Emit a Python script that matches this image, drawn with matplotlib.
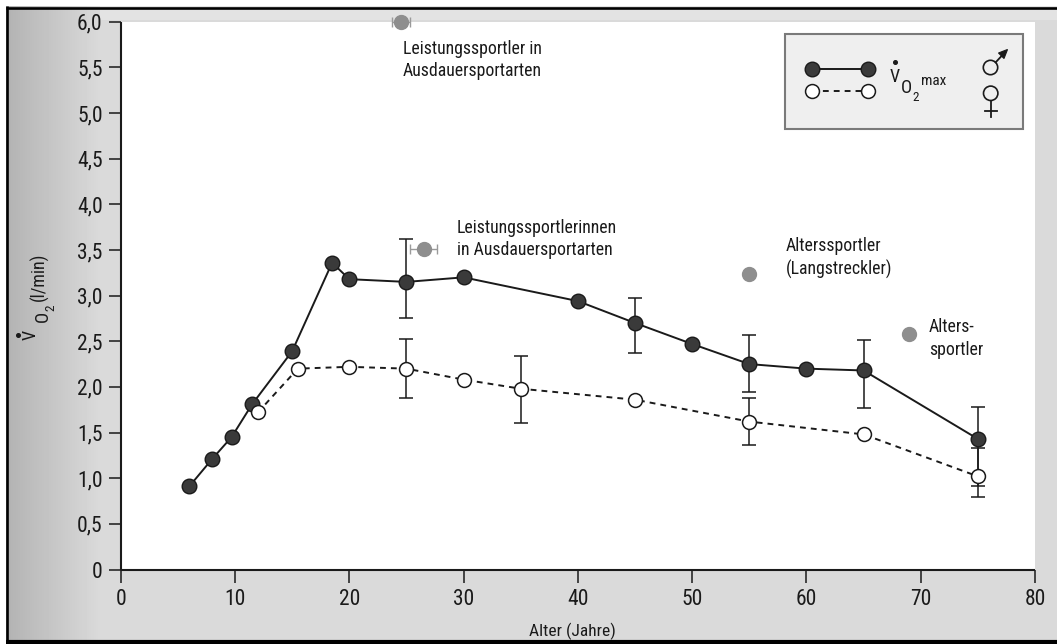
import numpy as np
import matplotlib
matplotlib.use("Agg")
import matplotlib.pyplot as plt
import matplotlib.font_manager as fm
from matplotlib.patches import Rectangle, Circle, Polygon

# ---------------- data ----------------
male_age = [6, 8, 9.7, 11.5, 15, 18.5, 20, 25, 30, 40, 45, 50, 55, 60, 65, 75]
male_vo2 = [0.91, 1.21, 1.45, 1.81, 2.39, 3.36, 3.18, 3.15, 3.20, 2.94, 2.70, 2.47, 2.25, 2.20, 2.18, 1.43]

female_age = [12, 15.5, 20, 25, 30, 35, 45, 55, 65, 75]
female_vo2 = [1.72, 2.20, 2.22, 2.20, 2.08, 1.98, 1.86, 1.62, 1.48, 1.02]

# spread (lower / upper end) at selected ages
male_err_age = [25, 45, 55, 65, 75]
male_err_lo = [2.75, 2.37, 1.94, 1.77, 0.91]
male_err_hi = [3.62, 2.97, 2.57, 2.51, 1.78]

female_err_age = [25, 35, 55, 75]
female_err_lo = [1.88, 1.61, 1.36, 0.79]
female_err_hi = [2.52, 2.34, 1.875, 1.33]

# trained groups
special_names = ["Leistungssportler in\nAusdauersportarten",
                 "Leistungssportlerinnen\nin Ausdauersportarten",
                 "Alterssportler\n(Langstreckler)",
                 "Alters-\nsportler"]
special_age = [24.5, 26.5, 55, 69]
special_vo2 = [6.0, 3.51, 3.24, 2.58]
special_age_err = [0.8, 1.15, 0.0, 0.0]

x_ticks = [0, 10, 20, 30, 40, 50, 60, 70, 80]
y_ticks = [0, 0.5, 1.0, 1.5, 2.0, 2.5, 3.0, 3.5, 4.0, 4.5, 5.0, 5.5, 6.0]
y_tick_labels = ["0", "0,5", "1,0", "1,5", "2,0", "2,5", "3,0", "3,5",
                 "4,0", "4,5", "5,0", "5,5", "6,0"]


# ---------------- fonts ----------------
def pick_font():
    entries = fm.fontManager.ttflist
    names = {f.name for f in entries}
    for fam in ["Liberation Sans Narrow", "Roboto Condensed",
                "Open Sans Condensed", "Noto Sans Condensed"]:
        if fam in names:
            return fam, "normal"
    for fam in ["DejaVu Sans", "Noto Sans", "Open Sans", "Roboto"]:
        for f in entries:
            if f.name == fam and str(f.stretch) in ("condensed", "semi-condensed",
                                                     "extra-condensed"):
                return fam, str(f.stretch)
    return "DejaVu Sans", "normal"


FAM, STRETCH = pick_font()
plt.rcParams["font.family"] = [FAM, "DejaVu Sans"]
plt.rcParams["font.stretch"] = STRETCH

INK = "#1a1a1a"
GREY_PT = "#8e8e8e"

W, H = 1057, 644
fig = plt.figure(figsize=(W / 100, H / 100), dpi=100)

# ---------------- page background ----------------
bg = fig.add_axes([0, 0, 1, 1], zorder=-5)
bg.set_xlim(0, W)
bg.set_ylim(H, 0)
bg.axis("off")
cols = np.arange(W, dtype=float)
shade = np.full(W, 0.855)
edge = cols < 100
shade[edge] = 0.70 + (0.855 - 0.70) * np.clip((cols[edge] - 6) / 94, 0, 1)
img = np.tile(shade, (H, 1))
img[:20, 100:] = 0.89
bg.imshow(img, cmap="gray", vmin=0, vmax=1, extent=(0, W, H, 0),
          aspect="auto", interpolation="bilinear")
bg.add_patch(Rectangle((0, 0), W, 6, fc="white", ec="none"))
bg.add_patch(Rectangle((0, 0), 6, H, fc="white", ec="none"))
bg.plot([6, W], [7.5, 7.5], color="black", lw=1.9, solid_capstyle="butt")
bg.plot([7, 7], [6, H], color="black", lw=1.9, solid_capstyle="butt")
bg.plot([6, W], [641.5, 641.5], color="black", lw=3.0, solid_capstyle="butt")

# ---------------- main axes ----------------
ax = fig.add_axes([120.7 / W, 1 - 569.5 / H, 914.3 / W, 547.8 / H])
ax.set_facecolor("white")
ax.set_xlim(0, 80)
ax.set_ylim(0, 6)
for side in ("top", "right"):
    ax.spines[side].set_visible(False)
for side in ("left", "bottom"):
    ax.spines[side].set_linewidth(1.5)
    ax.spines[side].set_color(INK)
    ax.spines[side].set_capstyle("butt")

ax.set_xticks(x_ticks)
ax.set_xticklabels([str(t) for t in x_ticks])
ax.set_yticks(y_ticks)
ax.set_yticklabels(y_tick_labels)
ax.tick_params(axis="both", direction="out", length=9, width=1.1, color=INK,
               labelsize=15.5, labelcolor=INK)
ax.tick_params(axis="x", pad=5)
ax.tick_params(axis="y", pad=4)

# spreads
m_lookup = dict(zip(male_age, male_vo2))
f_lookup = dict(zip(female_age, female_vo2))
m_mid = np.array([m_lookup[a] for a in male_err_age])
f_mid = np.array([f_lookup[a] for a in female_err_age])
ax.errorbar(male_err_age, m_mid,
            yerr=[m_mid - np.array(male_err_lo), np.array(male_err_hi) - m_mid],
            fmt="none", ecolor=INK, elinewidth=1.1, capsize=5, capthick=1.1, zorder=2)
ax.errorbar(female_err_age, f_mid,
            yerr=[f_mid - np.array(female_err_lo), np.array(female_err_hi) - f_mid],
            fmt="none", ecolor=INK, elinewidth=1.1, capsize=5, capthick=1.1, zorder=2)

# series
ax.plot(male_age, male_vo2, "-", color=INK, lw=1.4, zorder=3)
ax.plot(female_age, female_vo2, color=INK, lw=1.4, ls=(0, (3, 2.6)), zorder=3)
ax.plot(male_age, male_vo2, "o", ms=10.5, mfc="#3a3a3a", mec=INK, mew=1.0,
        ls="none", zorder=5, clip_on=False)
ax.plot(female_age, female_vo2, "o", ms=10, mfc="white", mec=INK, mew=1.1,
        ls="none", zorder=6, clip_on=False)

# trained groups
s_age = np.array(special_age)
s_vo2 = np.array(special_vo2)
s_err = np.array(special_age_err)
has_err = s_err > 0
ax.errorbar(s_age[has_err], s_vo2[has_err], xerr=s_err[has_err], fmt="none",
            ecolor="#9a9a9a", elinewidth=1.0, capsize=3.5, capthick=1.0,
            zorder=4, clip_on=False)
ax.plot(s_age, s_vo2, "o", ms=10, mfc=GREY_PT, mec=GREY_PT, ls="none",
        zorder=5, clip_on=False)

label_pos = [(24.7, 5.58), (29.4, 3.62), (58.2, 3.41), (70.7, 2.53)]
for name, (lx, ly) in zip(special_names, label_pos):
    ax.text(lx, ly, name, fontsize=12.8, color=INK, ha="left", va="center",
            linespacing=1.35)

# x axis title
fig.text(572 / W, 1 - 631 / H, "Alter (Jahre)", fontsize=12.5, color=INK,
         ha="center", va="center")

# ---------------- overlay (pixel coordinates) ----------------
fg = fig.add_axes([0, 0, 1, 1], zorder=10)
fg.set_xlim(0, W)
fg.set_ylim(H, 0)
fg.axis("off")
fg.patch.set_alpha(0)

# y axis title: V-dot, O, subscript 2, unit
fg.text(31, 335, "V", fontsize=13, color=INK, rotation=90, ha="center", va="center")
fg.plot([17.5], [335], "o", ms=2.6, color=INK)
fg.text(43, 316.5, "O", fontsize=13.5, color=INK, rotation=90, ha="center", va="center")
fg.text(50.5, 307.5, "2", fontsize=9.5, color=INK, rotation=90, ha="center", va="center")
fg.text(39, 277, "(l/min)", fontsize=13, color=INK, rotation=90, ha="center", va="center")

# key box
fg.add_patch(Rectangle((785, 34), 238, 95, fc="#efefef", ec="#7a7a7a", lw=1.5))
fg.plot([811.7, 868.3], [69, 69], "-", color=INK, lw=1.4)
fg.plot([811.7, 868.3], [69, 69], "o", ms=10.5, mfc="#3a3a3a", mec=INK, mew=1.0)
fg.plot([811.7, 868.3], [91, 91], color=INK, lw=1.4, ls=(0, (3, 2.6)))
fg.plot([811.7, 868.3], [91, 91], "o", ms=10, mfc="white", mec=INK, mew=1.1)
fg.text(894.5, 77, "V", fontsize=13, color=INK, ha="center", va="center")
fg.plot([895], [62], "o", ms=2.6, color=INK)
fg.text(906, 88, "O", fontsize=13.5, color=INK, ha="center", va="center")
fg.text(915.5, 97, "2", fontsize=9.5, color=INK, ha="center", va="center")
fg.text(921, 81, "max", fontsize=11, color=INK, ha="left", va="center")
# male / female signs
fg.add_patch(Circle((990.5, 67.5), 7.2, fill=False, ec=INK, lw=1.2))
fg.plot([995.6, 1002.5], [62.4, 55.0], color=INK, lw=1.3)
fg.add_patch(Polygon([(1007.5, 49.5), (998.5, 53.0), (1004.0, 58.5)],
                     closed=True, fc=INK, ec=INK, lw=0.8))
fg.add_patch(Circle((990.7, 93.3), 7.2, fill=False, ec=INK, lw=1.2))
fg.plot([990.7, 990.7], [100.5, 117], color=INK, lw=1.3)
fg.plot([984.5, 997.0], [110.5, 110.5], color=INK, lw=1.3)

fig.savefig("out.png", dpi=100)
